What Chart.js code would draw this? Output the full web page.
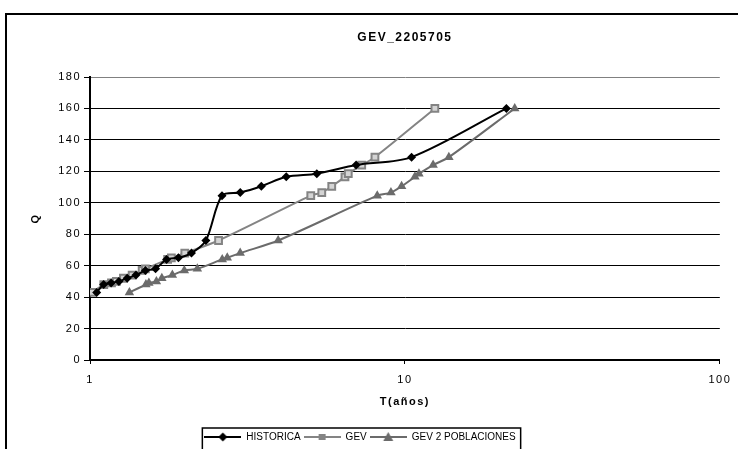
<!DOCTYPE html>
<html>
<head>
<meta charset="utf-8">
<script src="https://cdn.jsdelivr.net/npm/chart.js@4.4.1/dist/chart.umd.min.js"></script>
<style>
  html, body { margin: 0; padding: 0; background: #ffffff; overflow: hidden; }
  #wrap { position: relative; width: 738px; height: 449px; }
</style>
</head>
<body>
<div id="wrap"><canvas id="c" width="738" height="449"></canvas></div>
<script>
// Título y etiquetas
const chartTitle = 'GEV_2205705';
const xAxisTitle = 'T(años)';
const yAxisTitle = 'Q';
const seriesNames = ['HISTORICA', 'GEV', 'GEV 2 POBLACIONES'];

// Marcas de los ejes
const xTickValues = [1, 10, 100];
const yTickValues = [0, 20, 40, 60, 80, 100, 120, 140, 160, 180];

// Caudales ordenados (comunes a las tres series)
const caudal = [43, 48, 49, 50, 52, 54, 57, 58, 64, 65, 68, 76,
                104.5, 106.5, 110.5, 116.5, 118.5, 124, 129, 160];

// Periodo de retorno de cada caudal
const tHistorica = [1.05, 1.105, 1.167, 1.235, 1.3125, 1.4, 1.5, 1.615, 1.75, 1.909,
                    2.1, 2.333, 2.625, 3.0, 3.5, 4.2, 5.25, 7.0, 10.5, 21.0];
const tGev = [1.016, 1.106, 1.170, 1.213, 1.277, 1.361, 1.464, 1.499, 1.764, 1.813,
              2.000, 2.560, 5.024, 5.445, 5.857, 6.452, 6.610, 7.292, 8.032, 12.45];
const tGev2 = [1.334, 1.505, 1.538, 1.625, 1.691, 1.826, 1.993, 2.192, 2.630, 2.728,
               2.999, 3.958, 8.168, 9.029, 9.761, 10.76, 11.08, 12.29, 13.79, 22.32];

const FONT = 'Arial, "Liberation Sans", sans-serif';
const colHist = '#000000';
const colGev = '#848484';
const colGev2 = '#6b6b6b';

function pairs(ts) { return ts.map((t, i) => ({ x: t, y: caudal[i] })); }

// Símbolos de la leyenda: línea con marcador
function legendIcon(color, drawMarker) {
  const c = document.createElement('canvas');
  c.width = 37; c.height = 12;
  const g = c.getContext('2d');
  g.strokeStyle = color; g.lineWidth = 2;
  g.beginPath(); g.moveTo(0, 6); g.lineTo(37, 6); g.stroke();
  drawMarker(g);
  return c;
}
const icons = [
  legendIcon(colHist, g => {
    g.fillStyle = colHist; g.beginPath();
    g.moveTo(18.5, 1.5); g.lineTo(23, 6); g.lineTo(18.5, 10.5); g.lineTo(14, 6); g.closePath(); g.fill();
  }),
  legendIcon(colGev, g => {
    g.fillStyle = colGev; g.fillRect(15, 3, 7, 6);
  }),
  legendIcon(colGev2, g => {
    g.fillStyle = colGev2; g.beginPath();
    g.moveTo(18.5, 1); g.lineTo(23.5, 10); g.lineTo(13.5, 10); g.closePath(); g.fill();
  })
];

// Marco exterior, espaciado de letras de títulos/ejes y recuadro de la leyenda
const framePlugin = {
  id: 'frame',
  afterInit(chart) {
    const lg = chart.legend;
    if (lg && !lg._plainDraw) {
      const orig = lg.draw.bind(lg);
      lg.draw = function () {
        const ctx = chart.ctx;
        ctx.save();
        ctx.letterSpacing = '0px';
        orig();
        ctx.restore();
      };
      lg._plainDraw = true;
    }
  },
  beforeDraw(chart) {
    const ctx = chart.ctx;
    ctx.save();
    ctx.fillStyle = '#ffffff';
    ctx.fillRect(0, 0, chart.width, chart.height);
    ctx.strokeStyle = '#000000';
    ctx.lineWidth = 2;
    ctx.beginPath();
    ctx.moveTo(6, chart.height + 10);
    ctx.lineTo(6, 14);
    ctx.lineTo(chart.width + 10, 14);
    ctx.stroke();
    ctx.restore();
    ctx.letterSpacing = '1.5px';
  },
  afterDraw(chart) {
    const ctx = chart.ctx;
    ctx.letterSpacing = '0px';
    const lg = chart.legend;
    if (!lg || !lg.legendHitBoxes || !lg.legendHitBoxes.length) return;
    const hb = lg.legendHitBoxes;
    const left = hb[0].left - 2;
    const last = hb[hb.length - 1];
    const right = last.left + last.width + 5;
    const top = lg.top - 1;
    ctx.save();
    ctx.strokeStyle = '#000000';
    ctx.lineWidth = 1.5;
    ctx.strokeRect(left, top, right - left, 40);
    ctx.restore();
  }
};

const chart = new Chart(document.getElementById('c'), {
  type: 'line',
  data: {
    datasets: [
      {
        label: seriesNames[0],
        data: pairs(tHistorica),
        borderColor: colHist,
        backgroundColor: colHist,
        borderWidth: 2,
        pointStyle: 'rectRot',
        pointRadius: 4.5,
        pointBorderWidth: 0,
        pointBackgroundColor: colHist,
        tension: 0.3
      },
      {
        label: seriesNames[1],
        data: pairs(tGev),
        borderColor: colGev,
        backgroundColor: colGev,
        borderWidth: 2,
        pointStyle: 'rect',
        pointRadius: 4.8,
        pointBorderWidth: 2,
        pointBorderColor: colGev,
        pointBackgroundColor: '#d4d4d4',
        tension: 0.3
      },
      {
        label: seriesNames[2],
        data: pairs(tGev2),
        borderColor: colGev2,
        backgroundColor: colGev2,
        borderWidth: 2,
        pointStyle: 'triangle',
        pointRadius: 5.5,
        pointBorderWidth: 0,
        pointBackgroundColor: colGev2,
        tension: 0.3
      }
    ]
  },
  options: {
    responsive: false,
    animation: false,
    devicePixelRatio: 1,
    layout: { padding: { left: 0, right: 18, top: 0, bottom: 0 } },
    plugins: {
      title: {
        display: true,
        text: chartTitle,
        fullSize: false,
        color: '#000000',
        font: { family: FONT, size: 12, weight: 'bold' },
        padding: { top: 30, bottom: 32.6 }
      },
      legend: {
        display: true,
        position: 'bottom',
        maxHeight: 20,
        labels: {
          usePointStyle: true,
          pointStyleWidth: 37,
          boxHeight: 10,
          padding: 3,
          color: '#000000',
          font: { family: FONT, size: 10 },
          generateLabels: (ch) => ch.data.datasets.map((ds, i) => ({
            text: ds.label,
            pointStyle: icons[i],
            fillStyle: ds.borderColor,
            strokeStyle: ds.borderColor,
            lineWidth: 0,
            hidden: false,
            datasetIndex: i,
            fontColor: '#000000'
          }))
        }
      },
      tooltip: { enabled: false }
    },
    scales: {
      x: {
        type: 'logarithmic',
        min: 1,
        max: 100,
        afterBuildTicks: (s) => { s.ticks = xTickValues.map(v => ({ value: v })); },
        afterFit: (s) => { s.height = 69; },
        ticks: {
          callback: (v) => String(v),
          autoSkip: false,
          maxRotation: 0,
          color: '#000000',
          padding: 9,
          font: { family: FONT, size: 11 }
        },
        grid: { drawOnChartArea: false, drawTicks: true, tickLength: 4, color: '#000000' },
        border: { display: true, color: '#000000', width: 2 },
        title: {
          display: true,
          text: xAxisTitle,
          color: '#000000',
          font: { family: FONT, size: 11, weight: 'bold' },
          padding: { top: 0, bottom: 20 }
        }
      },
      y: {
        type: 'linear',
        min: 0,
        max: 180,
        afterBuildTicks: (s) => { s.ticks = yTickValues.map(v => ({ value: v })); },
        afterFit: (s) => { s.width = 90; },
        ticks: {
          color: '#000000',
          padding: 3,
          font: { family: FONT, size: 11 }
        },
        grid: {
          drawOnChartArea: true,
          drawTicks: true,
          tickLength: 6,
          lineWidth: 1,
          color: (c) => (c.tick && c.tick.value === 180 ? '#808080' : '#000000'),
          tickColor: '#000000'
        },
        border: { display: true, color: '#000000', width: 2 },
        title: {
          display: true,
          text: yAxisTitle,
          color: '#000000',
          font: { family: FONT, size: 11, weight: 'bold' },
          padding: { top: 29, bottom: 0 }
        }
      }
    }
  },
  plugins: [framePlugin]
});
</script>
</body>
</html>
